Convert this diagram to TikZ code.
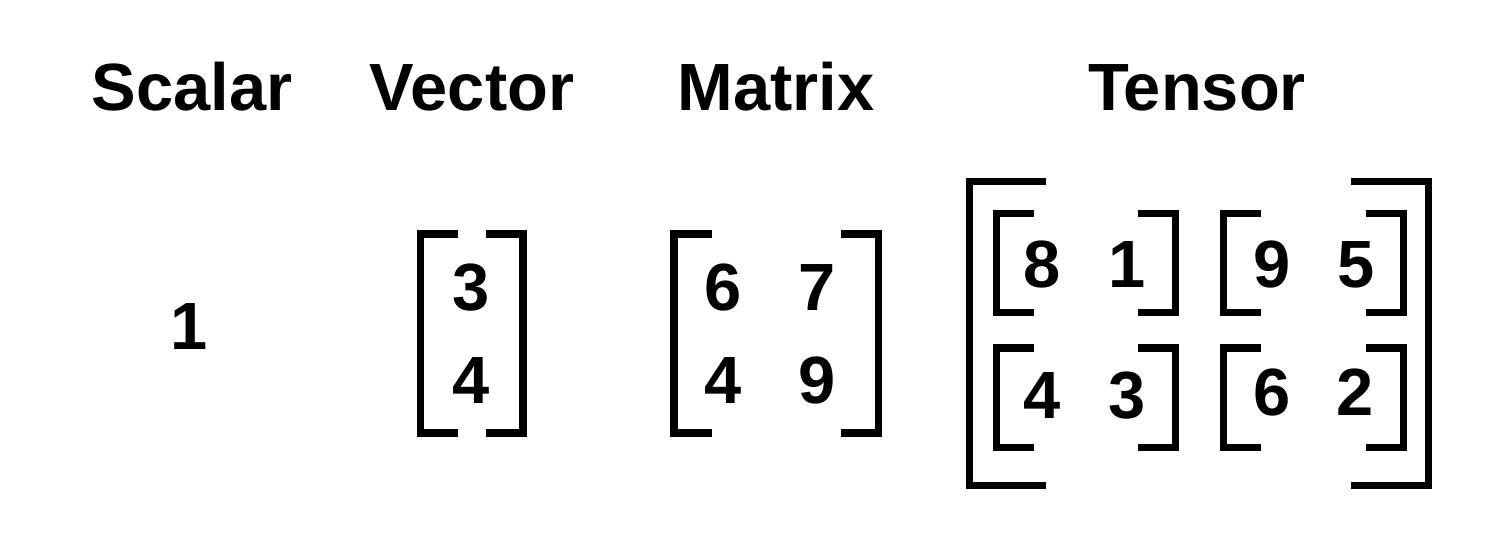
\documentclass[tikz,border=0pt]{standalone}
\usepackage{fontspec}
\setmainfont{Liberation Sans}

\begin{document}
\begin{tikzpicture}[x=0.01cm,y=-0.01cm,line width=2pt,line join=miter,
  every node/.style={font=\fontsize{19}{23}\selectfont\bfseries,anchor=base,inner sep=0pt}]
\useasboundingbox (0,0) rectangle (1509,539);
% headings
\node (scalar) at (192,110.5) {Scalar};
\node (vector) at (472,110.5) {Vector};
\node (matrix) at (776,110.5) {Matrix};
\node (tensor) at (1197,110.5) {Tensor};
% brackets: left/right/top/bottom/arm
\foreach \l/\r/\t/\b/\a in {420.5/523/234/433/37.5, 674/878.7/234/433/37.7,
    969.3/1428/181.7/485.7/76.6,
    996.7/1175.8/213.3/312.5/37.5, 1223.7/1403.2/213.3/312.5/37.6,
    996.7/1175.8/348/447.3/37.5, 1223.7/1403.2/348/447.3/37.6}
  \draw (\l+\a,\t) -- (\l,\t) -- (\l,\b) -- (\l+\a,\b)
        (\r-\a,\t) -- (\r,\t) -- (\r,\b) -- (\r-\a,\b);
% scalar
\node (s) at (189,349) {1};
% vector
\node (v1) at (471,310) {3};
\node (v2) at (471,403) {4};
% matrix
\node (m11) at (723,310) {6};
\node (m12) at (817,310) {7};
\node (m21) at (723,403) {4};
\node (m22) at (817,403) {9};
% tensor
\node (t111) at (1042,287.5) {8};
\node (t112) at (1127,287.5) {1};
\node (t121) at (1272,287.5) {9};
\node (t122) at (1356,287.5) {5};
\node (t211) at (1042,418) {4};
\node (t212) at (1127,418) {3};
\node (t221) at (1272,415.5) {6};
\node (t222) at (1355,415.5) {2};
\end{tikzpicture}
\end{document}
